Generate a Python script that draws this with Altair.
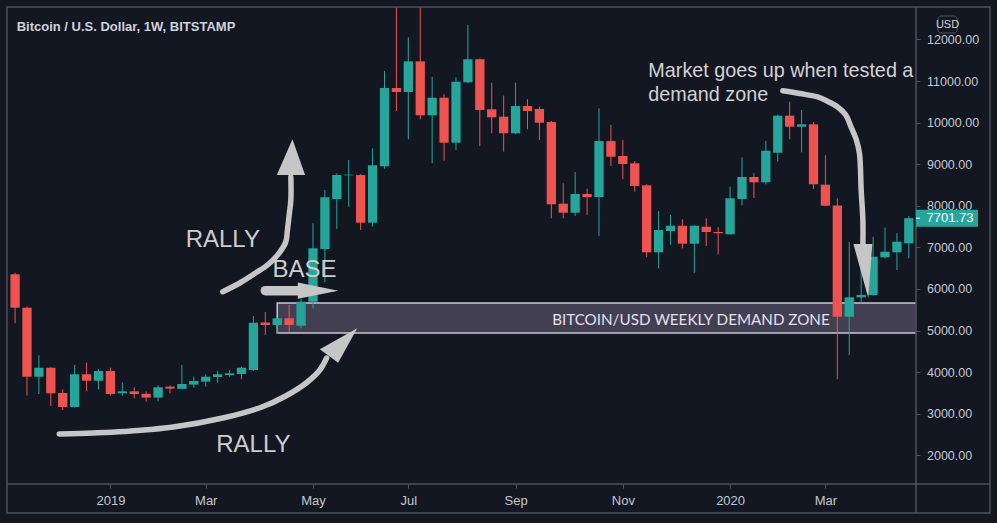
import altair as alt
import pandas as pd

# ---- colours / fonts -------------------------------------------------------
BG = "#131722"
UP = "#26a69a"
DOWN = "#ef5350"
FRAME = "#4f525c"
AXIS_TEXT = "#c4c7cf"
INK = "#c6c6c6"
ZONE_FILL = "#433f53"
FONT = "Liberation Sans"

# ---- weekly BTC/USD candles (Bitstamp), week start dates --------------------
week = [
    "2018-11-12", "2018-11-19", "2018-11-26", "2018-12-03", "2018-12-10", "2018-12-17",
    "2018-12-24", "2018-12-31",
    "2019-01-07", "2019-01-14", "2019-01-21", "2019-01-28", "2019-02-04", "2019-02-11",
    "2019-02-18", "2019-02-25", "2019-03-04", "2019-03-11", "2019-03-18", "2019-03-25",
    "2019-04-01", "2019-04-08", "2019-04-15", "2019-04-22", "2019-04-29", "2019-05-06",
    "2019-05-13", "2019-05-20", "2019-05-27", "2019-06-03", "2019-06-10", "2019-06-17",
    "2019-06-24", "2019-07-01", "2019-07-08", "2019-07-15", "2019-07-22", "2019-07-29",
    "2019-08-05", "2019-08-12", "2019-08-19", "2019-08-26", "2019-09-02", "2019-09-09",
    "2019-09-16", "2019-09-23", "2019-09-30", "2019-10-07", "2019-10-14", "2019-10-21",
    "2019-10-28", "2019-11-04", "2019-11-11", "2019-11-18", "2019-11-25", "2019-12-02",
    "2019-12-09", "2019-12-16", "2019-12-23", "2019-12-30",
    "2020-01-06", "2020-01-13", "2020-01-20", "2020-01-27", "2020-02-03", "2020-02-10",
    "2020-02-17", "2020-02-24", "2020-03-02", "2020-03-09", "2020-03-16", "2020-03-23",
    "2020-03-30", "2020-04-06", "2020-04-13", "2020-04-20",
]
opens = [
    6353, 5550, 3891, 4108, 3500, 3163, 3949, 3795,
    4028, 3492, 3540, 3480, 3390, 3652, 3600, 3700, 3772, 3884, 3932, 3956,
    4052, 5197, 5134, 5295, 5117, 5694, 6960, 8163, 8733, 8740, 7594, 8950,
    10832, 10735, 11473, 10175, 10598, 9517, 10969, 11522, 10320, 10142, 9743, 10399,
    10327, 10014, 8050, 7834, 8283, 8211, 9557, 9197, 9021, 8493, 6882, 7394,
    7521, 7089, 7497, 7370,
    7315, 8163, 8692, 8565, 9276, 10166, 9901, 9959, 8508, 8010, 5334, 5800,
    5855, 6762, 6882, 7098,
]
highs = [
    6392, 5580, 4406, 4120, 3589, 4173, 4228, 4077,
    4108, 3757, 3636, 3540, 3685, 3685, 4173, 3891, 3949, 4036, 4052, 4132,
    5350, 5447, 5310, 5617, 5776, 7579, 8380, 8781, 9100, 8760, 9382, 11240,
    13880, 12050, 13200, 11103, 10680, 11089, 12346, 11540, 10959, 10647, 10959, 10560,
    10383, 10040, 8541, 8812, 8411, 10344, 9942, 9582, 9077, 8517, 7875, 7779,
    7675, 7530, 7699, 7490,
    8459, 9165, 8788, 9558, 10190, 10502, 10303, 10014, 9214, 8180, 7130, 7000,
    7257, 7473, 7339, 7750,
]
lows = [
    5175, 3435, 3475, 3187, 3091, 3150, 3548, 3589,
    3435, 3435, 3372, 3290, 3300, 3492, 3590, 3628, 3652, 3747, 3891, 3829,
    4028, 4894, 4935, 4973, 5055, 5536, 6161, 7442, 7978, 7418, 7497, 8892,
    10279, 9598, 10079, 9021, 9084, 9341, 10950, 9437, 9743, 9300, 9730, 9839,
    9581, 7699, 7699, 7755, 7779, 7274, 8957, 8644, 8339, 6762, 6497, 7065,
    6978, 6391, 7033, 6834,
    7300, 8012, 8187, 8517, 9060, 9598, 9286, 8404, 7990, 3829, 4413, 5656,
    5840, 6738, 6456, 6738,
]
closes = [
    5550, 3891, 4108, 3492, 3163, 3949, 3795, 4028,
    3475, 3540, 3475, 3390, 3636, 3604, 3716, 3789, 3891, 3949, 3973, 4108,
    5189, 5134, 5295, 5134, 5694, 6978, 8204, 8740, 8748, 7594, 8973, 10832,
    10735, 11473, 10175, 10598, 9517, 10983, 11522, 10303, 10127, 9743, 10399, 10279,
    9997, 8036, 7834, 8283, 8211, 9557, 9180, 9005, 8476, 6882, 7418, 7521,
    7089, 7521, 7370, 7340,
    8180, 8692, 8565, 9324, 10166, 9901, 9959, 8517, 8002, 5334, 5800, 5857,
    6776, 6896, 7137, 7701.73,
]

# axis ticks
month_ticks = ["2019-01-07", "2019-03-04", "2019-05-06", "2019-07-01",
               "2019-09-02", "2019-11-04", "2020-01-06", "2020-03-02"]
price_ticks = [2000, 3000, 4000, 5000, 6000, 7000, 8000, 9000, 10000, 11000, 12000]

# demand zone
zone_start, zone_end = "2019-04-15", "2020-06-01"
zone_low, zone_high = 4942, 5663
zone_text = "BITCOIN/USD WEEKLY DEMAND ZONE"

# hand-drawn arrows (date, price) along each stroke
arrow_up_dates = ["2019-03-14", "2019-03-24", "2019-04-02", "2019-04-10", "2019-04-16",
                  "2019-04-20", "2019-04-21", "2019-04-22", "2019-04-23", "2019-04-23"]
arrow_up_prices = [5935, 6144, 6377, 6601, 6858, 7129, 7418, 7779, 8139, 8692]
arrow_low_dates = ["2018-12-08", "2018-12-28", "2019-01-15", "2019-02-13", "2019-03-14",
                   "2019-04-06", "2019-04-20", "2019-05-02", "2019-05-10", "2019-05-14"]
arrow_low_prices = [2514, 2538, 2574, 2682, 2898, 3163, 3427, 3740, 4052, 4341]
arrow_mkt_dates = ["2020-02-06", "2020-02-16", "2020-02-26", "2020-03-03", "2020-03-09",
                   "2020-03-14", "2020-03-17", "2020-03-20", "2020-03-22", "2020-03-23",
                   "2020-03-24", "2020-03-24"]
arrow_mkt_prices = [10767, 10699, 10622, 10519, 10382, 10183, 9901, 9606, 9262, 8380,
                    7658, 7057]
base_dates = ["2019-04-08", "2019-04-29"]
base_prices = [5959, 5959]

# arrow heads: centre (date, price), outline, symbol area
head_dates = ["2019-04-23", "2019-05-21", "2019-05-09", "2020-03-24"]
head_prices = [9173, 4641, 5959, 6432]
head_paths = [
    "M-0.78,1L0.79,1L0.09,-0.98Z",
    "M-1,0.2L-0.02,0.92L1,-0.92Z",
    "M-1,-0.4L-1,0.4L1,0Z",
    "M-0.35,-1L0.35,-1L0.2,1Z",
]
head_areas = [1296, 1399, 1648, 2916]

# annotation words
word_text = ["RALLY", "BASE", "RALLY"]
word_dates = ["2019-03-14", "2019-05-01", "2019-04-01"]
word_prices = [7002, 6281, 2088]
note_text = ["Market goes up when tested a", "demand zone"]
note_dates = ["2019-11-19", "2019-11-19"]
note_prices = [11096, 10526]

# ---- tables ----------------------------------------------------------------
candles = pd.DataFrame({"date": week, "open": opens, "high": highs,
                        "low": lows, "close": closes})
zone = pd.DataFrame({"date": [zone_start], "date_end": [zone_end],
                     "low": [zone_low], "high": [zone_high]})
zone_label = pd.DataFrame({"date": ["2019-12-14"], "price": [5134], "label": [zone_text]})

arrows = pd.concat([
    pd.DataFrame({"arrow": name, "i": range(len(d)), "date": d, "price": p})
    for name, d, p in [("up", arrow_up_dates, arrow_up_prices),
                       ("low", arrow_low_dates, arrow_low_prices),
                       ("mkt", arrow_mkt_dates, arrow_mkt_prices)]
], ignore_index=True)
base_arrow = pd.DataFrame({"i": [0, 1], "date": base_dates, "price": base_prices})
heads = pd.DataFrame({"date": head_dates, "price": head_prices,
                      "path": head_paths, "area": head_areas})
words = pd.DataFrame({"label": word_text, "date": word_dates, "price": word_prices})
notes = pd.DataFrame({"label": note_text, "date": note_dates, "price": note_prices})
last = pd.DataFrame({"price": [closes[-1]], "label": [f"{closes[-1]:.2f}"]})
one = pd.DataFrame({"k": [0]})


def ms(stamp):
    return int(pd.Timestamp(stamp, tz="UTC").value // 10**6)


# ---- scales & axes ---------------------------------------------------------
x_scale = alt.Scale(type="utc", domain=[ms("2018-11-10 04:48"), ms("2020-04-21 06:30")])
y_scale = alt.Scale(domain=[1312, 12779], nice=False, zero=False)

x_axis = alt.Axis(
    title=None, values=[ms(d) for d in month_ticks],
    labelExpr="utcFormat(datum.value, '%m') == '01' ? utcFormat(datum.value, '%Y') : utcFormat(datum.value, '%b')",
    domain=False, grid=False, tickSize=4, tickColor=FRAME, tickWidth=1,
    labelPadding=6, labelFont=FONT, labelFontSize=13, labelColor=AXIS_TEXT,
    labelOverlap=False, labelFlush=False,
)
y_axis = alt.Axis(
    title=None, orient="right", values=price_ticks, format=".2f",
    domain=False, grid=False, tickSize=4, tickColor=FRAME, tickWidth=1,
    labelPadding=6.5, labelFont=FONT, labelFontSize=12.5, labelColor=AXIS_TEXT,
    labelOverlap=False, labelFlush=False,
)


def X(field="date"):
    return alt.X(f"{field}:T", scale=x_scale, axis=x_axis)


def Y(field):
    return alt.Y(f"{field}:Q", scale=y_scale, axis=y_axis)


candle_color = alt.condition("datum.close >= datum.open", alt.value(UP), alt.value(DOWN))

# ---- layers ----------------------------------------------------------------
zone_layer = alt.Chart(zone).mark_rect(
    clip=True, fill=ZONE_FILL, stroke="#c9c9d1", strokeWidth=1.5
).encode(x=X(), x2=alt.X2("date_end:T"), y=Y("low"), y2=alt.Y2("high:Q"))

wicks = alt.Chart(candles).mark_rule(clip=True, strokeWidth=1).encode(
    x=X(), y=Y("low"), y2=alt.Y2("high:Q"), color=candle_color
)
bodies = alt.Chart(candles).mark_bar(clip=True, size=9.3).encode(
    x=X(), y=Y("open"), y2=alt.Y2("close:Q"), color=candle_color
)

zone_text_layer = alt.Chart(zone_label).mark_text(
    font="Lato", fontSize=15.2, color="#e4e0ec", align="center", baseline="alphabetic"
).encode(x=X(), y=Y("price"), text="label:N")

shafts = alt.Chart(arrows).mark_line(
    color=INK, strokeWidth=5.5, strokeCap="round", strokeJoin="round",
    interpolate="catmull-rom"
).encode(x=X(), y=Y("price"), detail="arrow:N", order="i:Q")

base_shaft = alt.Chart(base_arrow).mark_line(
    color=INK, strokeWidth=9.5, strokeCap="round"
).encode(x=X(), y=Y("price"), order="i:Q")

head_layer = alt.Chart(heads).mark_point(
    filled=True, opacity=1, color=INK, strokeWidth=0
).encode(
    x=X(), y=Y("price"),
    shape=alt.Shape("path:N", scale=None),
    size=alt.Size("area:Q", scale=None),
)

word_layer = alt.Chart(words).mark_text(
    font=FONT, fontSize=24, color="#cdcdcd", align="center", baseline="alphabetic"
).encode(x=X(), y=Y("price"), text="label:N")

note_layer = alt.Chart(notes).mark_text(
    font=FONT, fontSize=19.8, color="#d2d2d2", align="left", baseline="alphabetic",
    clip=True
).encode(x=X(), y=Y("price"), text="label:N")

# panel frame: outer border, price-scale divider, time-scale divider
frame = alt.Chart(one).mark_rect(
    fill=None, stroke=FRAME, strokeWidth=1.5
).encode(x=alt.value(0), x2=alt.value(983), y=alt.value(0), y2=alt.value(506))
v_div = alt.Chart(one).mark_rule(color=FRAME, strokeWidth=1.5).encode(
    x=alt.value(909), y=alt.value(0), y2=alt.value(506)
)
h_div = alt.Chart(one).mark_rule(color=FRAME, strokeWidth=1.5).encode(
    x=alt.value(0), x2=alt.value(983), y=alt.value(477)
)

title = alt.Chart(one).mark_text(
    text="Bitcoin / U.S. Dollar, 1W, BITSTAMP", font=FONT, fontSize=13,
    fontWeight="bold", color="#cfd2da", align="left", baseline="alphabetic"
).encode(x=alt.value(9.7), y=alt.value(24))

usd_box = alt.Chart(one).mark_rect(
    fill=BG, stroke=FRAME, strokeWidth=1, cornerRadius=3
).encode(x=alt.value(931), x2=alt.value(950), y=alt.value(9), y2=alt.value(26))
usd_text = alt.Chart(one).mark_text(
    text="USD", font=FONT, fontSize=11, color="#d1d4dc", align="center", baseline="middle"
).encode(x=alt.value(940.5), y=alt.value(17.8))

price_box = alt.Chart(last).mark_point(
    filled=True, opacity=1, color=UP, strokeWidth=0,
    shape="M-1,-0.274L1,-0.274L1,0.274L-1,0.274Z", size=3844
).encode(x=alt.value(940), y=Y("price"))
price_tick = alt.Chart(last).mark_rule(color="white", strokeWidth=1).encode(
    x=alt.value(909), x2=alt.value(913), y=Y("price")
)
price_text = alt.Chart(last).mark_text(
    font=FONT, fontSize=13, color="white", align="left", baseline="middle"
).encode(x=alt.value(919.5), y=Y("price"), text="label:N")

chart = alt.layer(
    zone_layer, wicks, bodies, zone_text_layer,
    shafts, base_shaft, head_layer, word_layer, note_layer,
    frame, v_div, h_div, title, usd_box, usd_text,
    price_box, price_tick, price_text,
).properties(
    width=909, height=477,
    padding={"left": 7, "top": 7, "right": 81, "bottom": 39},
    autosize=alt.AutoSizeParams(type="none"),
    background=BG,
).configure_view(strokeWidth=0)

chart.save("out.html", embed_options={"renderer": "svg", "actions": False})
